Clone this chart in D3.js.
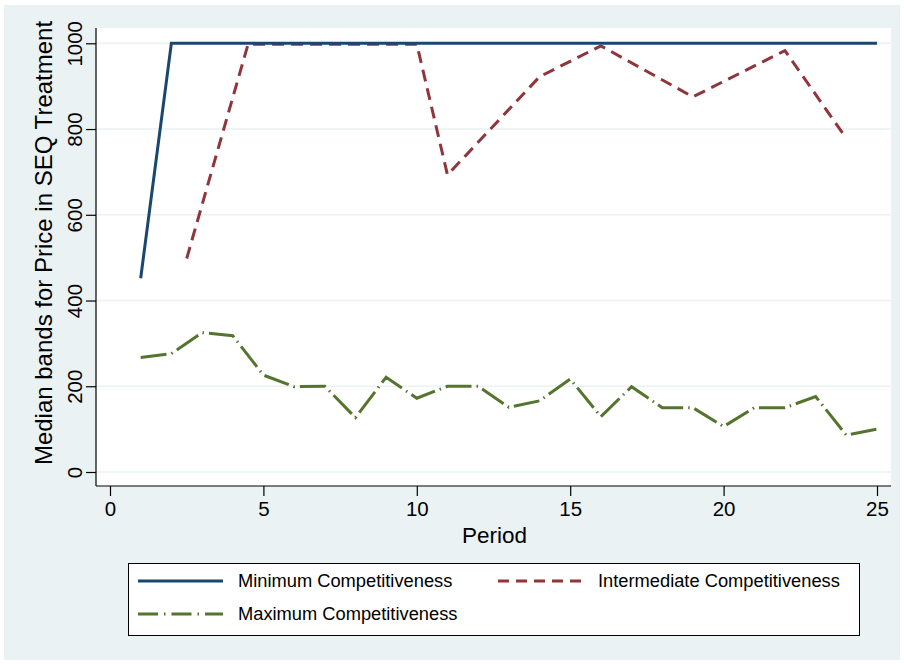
<!DOCTYPE html>
<html>
<head>
<meta charset="utf-8">
<script src="https://cdn.jsdelivr.net/npm/d3@7"></script>
<style>
  html, body { margin: 0; padding: 0; background: #ffffff; }
  svg { display: block; font-family: "Liberation Sans", Arial, sans-serif; }
</style>
</head>
<body>
<svg id="chart" width="904" height="664"></svg>
<script>
// ---- Data ----
const minPeriods = [1,2,3,4,5,6,7,8,9,10,11,12,13,14,15,16,17,18,19,20,21,22,23,24,25];
const minValues  = [452,1000,1000,1000,1000,1000,1000,1000,1000,1000,1000,1000,1000,1000,1000,1000,1000,1000,1000,1000,1000,1000,1000,1000,1000];

const intPeriods = [2.5, 4.5, 10, 11, 14, 16, 19, 22, 24];
const intValues  = [498, 998, 998, 693, 922, 994, 875, 983, 778];

const maxPeriods = [1,2,3,4,5,6,7,8,9,10,11,12,13,14,15,16,17,18,19,20,21,22,23,24,25];
const maxValues  = [267,276,325,318,226,199,200,127,221,172,200,200,151,166,217,129,199,150,150,106,150,150,176,86,100];

const xTicks = [0,5,10,15,20,25];
const yTicks = [0,200,400,600,800,1000];

const seriesNames = ["Minimum Competitiveness", "Intermediate Competitiveness", "Maximum Competitiveness"];
const xTitle = "Period";
const yTitle = "Median bands for Price in SEQ Treatment";

// ---- Layout ----
const svg = d3.select("#chart");
const bg = "#eaf2f3";
const plot = { left: 96, right: 891, top: 28, bottom: 486 };

svg.append("rect").attr("x", 0).attr("y", 0).attr("width", 904).attr("height", 664).attr("fill", "#ffffff");
svg.append("rect").attr("x", 4).attr("y", 5).attr("width", 896).attr("height", 655).attr("fill", bg);
svg.append("rect").attr("x", plot.left).attr("y", plot.top)
  .attr("width", plot.right - plot.left).attr("height", plot.bottom - plot.top).attr("fill", "#ffffff");

const x = d3.scaleLinear().domain([0, 25]).range([110, 877]);
const y = d3.scaleLinear().domain([0, 1000]).range([472, 43.3]);

// gridlines
svg.append("g").selectAll("line").data(yTicks).join("line")
  .attr("x1", plot.left).attr("x2", plot.right)
  .attr("y1", d => y(d)).attr("y2", d => y(d))
  .attr("stroke", bg).attr("stroke-width", 1.6);

// axes
const yAxis = d3.axisLeft(y).tickValues(yTicks).tickFormat(d3.format("d")).tickSize(10).tickPadding(4).tickSizeOuter(0);
const gy = svg.append("g").attr("transform", `translate(${plot.left},0)`).call(yAxis);
gy.select(".domain").attr("d", `M0,${plot.top}V${plot.bottom}`).attr("stroke", "#000").attr("stroke-width", 1.2);
gy.selectAll(".tick line").attr("stroke", "#000").attr("stroke-width", 1.2);
gy.selectAll(".tick text")
  .attr("font-size", 20.5).attr("fill", "#000")
  .attr("x", null).attr("dy", null)
  .attr("text-anchor", "middle")
  .attr("transform", "translate(-14,0) rotate(-90)");

const xAxis = d3.axisBottom(x).tickValues(xTicks).tickFormat(d3.format("d")).tickSize(10).tickPadding(4).tickSizeOuter(0);
const gx = svg.append("g").attr("transform", `translate(0,${plot.bottom})`).call(xAxis);
gx.select(".domain").attr("d", `M${plot.left},0H${plot.right}`).attr("stroke", "#000").attr("stroke-width", 1.2);
gx.selectAll(".tick line").attr("stroke", "#000").attr("stroke-width", 1.2);
gx.selectAll(".tick text").attr("font-size", 20.5).attr("fill", "#000").attr("dy", null).attr("y", 30);

// axis titles
svg.append("text").attr("x", (plot.left + plot.right) / 2 + 1).attr("y", 543)
  .attr("text-anchor", "middle").attr("font-size", 22.5).attr("fill", "#000").text(xTitle);
svg.append("text").attr("transform", `translate(52,${243}) rotate(-90)`)
  .attr("text-anchor", "middle").attr("font-size", 24).attr("fill", "#000").text(yTitle);

// lines
const colors = ["#1a476f", "#90353b", "#55752f"];
const dashes = [null, "12,7", "26,5,1.5,5"];
const line = d3.line().x(d => x(d[0])).y(d => y(d[1]));
const series = [
  d3.zip(minPeriods, minValues),
  d3.zip(intPeriods, intValues),
  d3.zip(maxPeriods, maxValues)
];
const drawOrder = [2, 1, 0];
drawOrder.forEach(i => {
  svg.append("path").datum(series[i])
    .attr("d", line)
    .attr("fill", "none")
    .attr("stroke", colors[i])
    .attr("stroke-width", 3)
    .attr("stroke-linejoin", "miter")
    .attr("stroke-dasharray", dashes[i]);
});

// legend
svg.append("rect").attr("x", 128.5).attr("y", 563.5).attr("width", 731).attr("height", 72)
  .attr("fill", "#ffffff").attr("stroke", "#000").attr("stroke-width", 1);
const legendDashes = [null, "11,7", "20,6,1.5,6"];
const legendItems = [
  { i: 0, lx: 138, ly: 581 },
  { i: 1, lx: 498, ly: 581 },
  { i: 2, lx: 138, ly: 614 }
];
const lg = svg.append("g");
legendItems.forEach(it => {
  lg.append("line").attr("x1", it.lx).attr("x2", it.lx + 85).attr("y1", it.ly).attr("y2", it.ly)
    .attr("stroke", colors[it.i]).attr("stroke-width", 3)
    .attr("stroke-dasharray", legendDashes[it.i]);
  lg.append("text").attr("x", it.lx + 100).attr("y", it.ly + 6)
    .attr("font-size", 18.3).attr("fill", "#000").text(seriesNames[it.i]);
});
</script>
</body>
</html>
